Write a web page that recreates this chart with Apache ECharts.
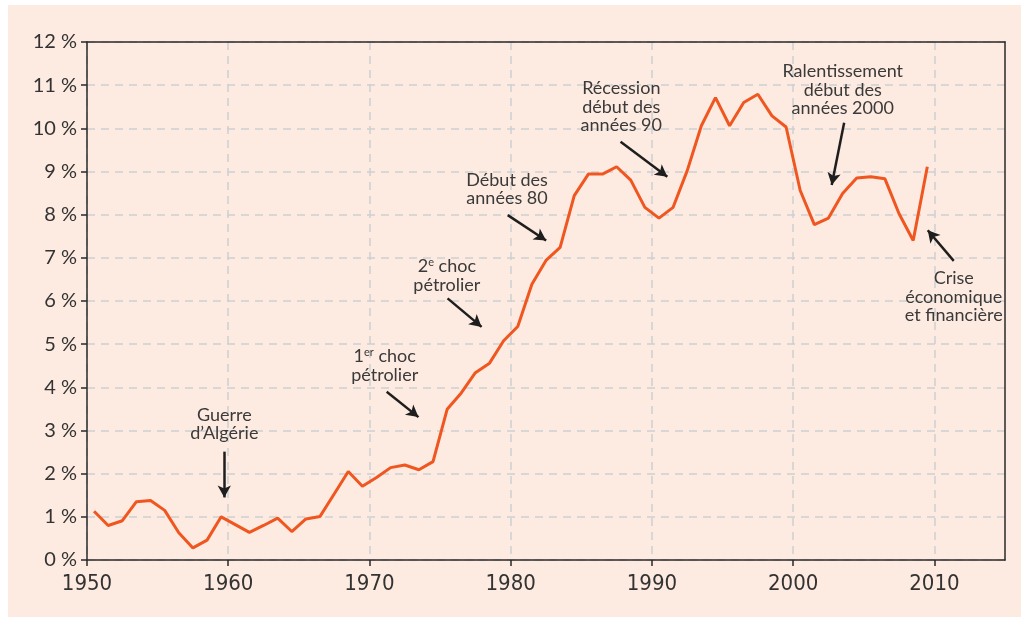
<!DOCTYPE html>
<html>
<head>
<meta charset="utf-8">
<script src="https://cdn.jsdelivr.net/npm/echarts@6/dist/echarts.min.js"></script>
<style>
	html, body { margin: 0; padding: 0; background: #ffffff; }
	#panel { position: absolute; left: 8px; top: 5px; width: 1013px; height: 612px; background: #fdeae0; }
	#chart { position: absolute; left: 0; top: 0; width: 1021px; height: 617px; }
</style>
</head>
<body>
<div id="panel"></div>
<div id="chart"></div>
<script>
// one value per year, drawn at mid-year
var years = [];
for (var y = 1950; y <= 2009; y++) years.push(y);

var rates = [
	1.13, 0.80, 0.91, 1.35, 1.38, 1.15, 0.63, 0.28, 0.46, 1.00,
	0.82, 0.64, 0.80, 0.97, 0.66, 0.95, 1.01, 1.53, 2.05, 1.71,
	1.91, 2.14, 2.20, 2.09, 2.28, 3.49, 3.87, 4.34, 4.56, 5.08,
	5.41, 6.39, 6.94, 7.24, 8.44, 8.94, 8.94, 9.11, 8.80, 8.17,
	7.92, 8.17, 9.02, 10.06, 10.71, 10.06, 10.60, 10.79, 10.29, 10.03,
	8.56, 7.77, 7.92, 8.49, 8.85, 8.88, 8.83, 8.02, 7.40, 9.11
];

var xLabels = [1950, 1960, 1970, 1980, 1990, 2000, 2010];

// annotation texts: [x, y (centre of block), lines]
var notes = [
	[1959.72, 3.15, ['Guerre', 'd\u2019Algérie']],
	[1971.08, 4.50, ['1{sup|er} choc', 'pétrolier']],
	[1975.48, 6.59, ['2{sup|e} choc', 'pétrolier']],
	[1979.74, 8.59, ['Début des', 'années 80']],
	[1987.83, 10.49, ['Récession', 'début des', 'années 90']],
	[2003.51, 10.89, ['Ralentissement', 'début des', 'années 2000']],
	[2011.37, 6.09, ['Crise', 'économique', 'et financière']]
];

// arrows: from [x, y] to [x, y]
var arrows = [
	[[1959.72, 2.51], [1959.72, 1.45]],
	[[1971.22, 3.90], [1973.47, 3.31]],
	[[1975.53, 6.06], [1977.94, 5.40]],
	[[1979.79, 7.99], [1982.51, 7.40]],
	[[1987.78, 9.69], [1991.09, 8.88]],
	[[2003.61, 10.13], [2002.73, 8.69]],
	[[2011.37, 6.93], [2009.53, 7.64]]
];

var points = years.map(function(yr, i) { return [yr + 0.5, rates[i]]; });

var frameLine = { show: true, onZero: false, lineStyle: { color: '#2a2a2a', width: 1.5 } };
var gridDash = { show: true, lineStyle: { color: '#cdd0d2', width: 1.5, type: [8, 6] } };
var textFont = 'Lato, "Open Sans", sans-serif';

var chart = echarts.init(document.getElementById('chart'));

chart.setOption({
	backgroundColor: 'transparent',
	animation: false,
	grid: { left: 87, top: 42, right: 16, bottom: 57 },
	xAxis: [
		{
			type: 'value',
			min: 1950,
			max: 2015,
			interval: 5,
			axisLine: frameLine,
			axisTick: {
				show: true,
				length: 6,
				customValues: xLabels,
				lineStyle: { color: '#2a2a2a', width: 1.5 }
			},
			axisLabel: {
				customValues: xLabels,
				margin: 13,
				color: '#333333',
				fontFamily: '"DejaVu Sans Condensed", "Liberation Sans Narrow", Lato, sans-serif',
				fontSize: 22,
				formatter: function(v) { return String(v); }
			},
			splitLine: gridDash
		},
		{
			type: 'value',
			position: 'top',
			min: 1950,
			max: 2015,
			axisLine: frameLine,
			axisTick: { show: false },
			axisLabel: { show: false },
			splitLine: { show: false }
		}
	],
	yAxis: [
		{
			type: 'value',
			min: 0,
			max: 12,
			interval: 1,
			axisLine: frameLine,
			axisTick: { show: true, length: 6, lineStyle: { color: '#2a2a2a', width: 1.5 } },
			axisLabel: {
				margin: 10,
				color: '#333333',
				fontFamily: textFont,
				fontSize: 20,
				formatter: function(v) { return v + ' %'; }
			},
			splitLine: gridDash
		},
		{
			type: 'value',
			position: 'right',
			min: 0,
			max: 12,
			axisLine: frameLine,
			axisTick: { show: false },
			axisLabel: { show: false },
			splitLine: { show: false }
		}
	],
	series: [
		{
			name: 'taux',
			type: 'line',
			data: points,
			symbol: 'none',
			lineStyle: { color: '#f0561f', width: 3 },
			z: 3,
			markLine: {
				silent: true,
				symbol: ['none', 'arrow'],
				symbolSize: [10, 12],
				label: { show: false },
				lineStyle: { color: '#1e1e1e', width: 2.5, type: 'solid' },
				data: arrows.map(function(a) {
					return [{ coord: a[0] }, { coord: a[1] }];
				})
			},
			markPoint: {
				silent: true,
				symbol: 'circle',
				symbolSize: 0,
				label: {
					show: true,
					position: 'inside',
					align: 'center',
					color: '#3a3a3a',
					fontFamily: textFont,
					fontSize: 18,
					lineHeight: 18.5,
					rich: {
						sup: { fontSize: 11, lineHeight: 10, verticalAlign: 'top', color: '#3a3a3a', fontFamily: textFont }
					}
				},
				data: notes.map(function(n) {
					return { coord: [n[0], n[1]], value: n[2].join('\n'), label: { formatter: n[2].join('\n') } };
				})
			}
		}
	]
});
</script>
</body>
</html>
